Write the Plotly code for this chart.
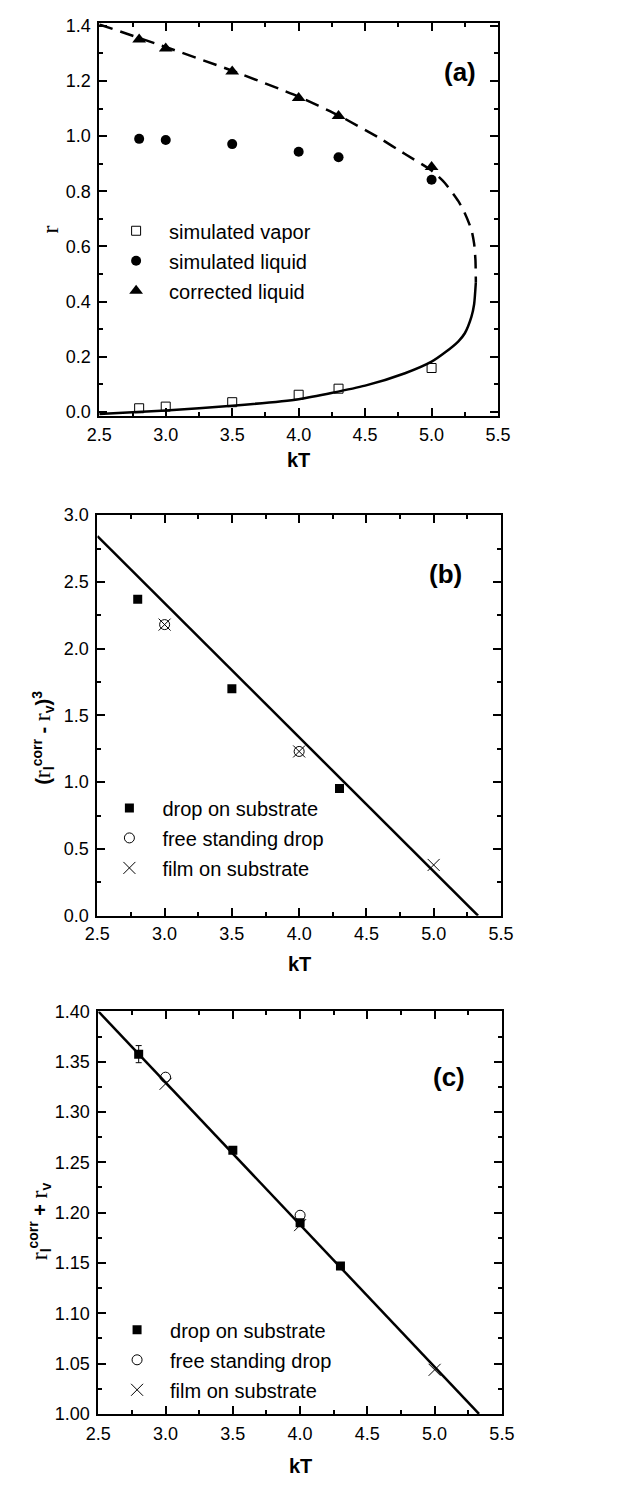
import plotly.graph_objects as go

# ---------------- data ----------------
kT_sim = [2.8, 3.0, 3.5, 4.0, 4.3, 5.0]
rho_vapor = [0.013, 0.019, 0.035, 0.062, 0.084, 0.159]
rho_liquid = [0.990, 0.986, 0.971, 0.943, 0.923, 0.842]
rho_corrected = [1.350, 1.318, 1.234, 1.138, 1.073, 0.888]

upper_kT = [2.5, 3.0, 3.5, 4.0, 4.3, 4.6, 4.8, 5.0, 5.1, 5.2, 5.25, 5.3, 5.32, 5.33, 5.333]
upper_rho = [1.405, 1.323, 1.237, 1.143, 1.075, 0.995, 0.935, 0.875, 0.830, 0.765, 0.720, 0.660, 0.610, 0.550, 0.470]
lower_kT = [2.5, 3.0, 3.5, 4.0, 4.5, 4.8, 5.0, 5.1, 5.2, 5.25, 5.3, 5.32, 5.333]
lower_rho = [-0.008, 0.005, 0.022, 0.046, 0.095, 0.140, 0.182, 0.215, 0.255, 0.285, 0.345, 0.390, 0.470]

# panel (b): (r_l^corr - r_v)^3
drop_kT_b = [2.8, 3.5, 4.3]
drop_b = [2.37, 1.70, 0.953]
free_kT_b = [3.0, 4.0]
free_b = [2.18, 1.23]
film_kT_b = [3.0, 4.0, 5.0]
film_b = [2.18, 1.23, 0.38]
fit_kT_b = [2.5, 5.33]
fit_b = [2.843, 0.0]

# panel (c): r_l^corr + r_v
drop_kT_c = [2.8, 3.5, 4.0, 4.3]
drop_c = [1.3575, 1.262, 1.190, 1.147]
drop_err_c = [0.0085, 0.0, 0.0, 0.0]
free_kT_c = [3.0, 4.0]
free_c = [1.3346, 1.1974]
film_kT_c = [3.0, 4.0, 5.0]
film_c = [1.328, 1.1876, 1.0438]
fit_kT_c = [2.5, 5.33]
fit_c = [1.400, 1.000]

x_ticks = [2.5, 3.0, 3.5, 4.0, 4.5, 5.0, 5.5]

# ---------------- layout helpers ----------------
W, H = 628, 1490
SANS = "Liberation Sans, Arial, sans-serif"
SERIF = "Liberation Serif, Times New Roman, serif"


def px(x):
    return x / W


def py(y):
    return 1 - y / H


def axis(domain, rng, tick0, dtick, fmt, anchor, minor_dtick, tickvals=None, standoff=3):
    d = dict(
        domain=domain, range=rng, tick0=tick0, dtick=dtick, tickformat=fmt,
        anchor=anchor, ticks="inside", ticklen=8, tickwidth=1.5,
        showline=True, linewidth=2, linecolor="black", mirror="allticks",
        showgrid=False, zeroline=False,
        tickfont=dict(family=SANS, size=18, color="black"),
        ticklabelstandoff=standoff,
        minor=dict(ticks="inside", ticklen=4, tickwidth=1.5, tick0=tick0,
                   dtick=minor_dtick, showgrid=False, tickcolor="black"),
        tickcolor="black",
    )
    if tickvals is not None:
        d["tickvals"] = tickvals
        d["tickmode"] = "array"
    return d


fig = go.Figure()

# ---------- panel (a) ----------
fig.add_trace(go.Scatter(x=upper_kT, y=upper_rho, mode="lines",
                         line=dict(color="black", width=2.5, dash="14px,8px", shape="spline", smoothing=0.6),
                         showlegend=False, xaxis="x", yaxis="y", hoverinfo="skip"))
fig.add_trace(go.Scatter(x=lower_kT, y=lower_rho, mode="lines",
                         line=dict(color="black", width=2.5, shape="spline", smoothing=0.6),
                         showlegend=False, xaxis="x", yaxis="y", hoverinfo="skip"))
fig.add_trace(go.Scatter(x=kT_sim, y=rho_vapor, mode="markers", name="simulated vapor",
                         marker=dict(symbol="square-open", size=9, color="black", line=dict(width=1)),
                         xaxis="x", yaxis="y", legend="legend", legendgroup="a1"))
fig.add_trace(go.Scatter(x=kT_sim, y=rho_liquid, mode="markers", name="simulated liquid",
                         marker=dict(symbol="circle", size=10, color="black"),
                         xaxis="x", yaxis="y", legend="legend", legendgroup="a2"))
fig.add_trace(go.Scatter(x=kT_sim, y=rho_corrected, mode="markers", name="corrected liquid",
                         marker=dict(symbol="triangle-up", size=12, color="black"),
                         xaxis="x", yaxis="y", legend="legend", legendgroup="a3"))

# ---------- panel (b) ----------
fig.add_trace(go.Scatter(x=fit_kT_b, y=fit_b, mode="lines",
                         line=dict(color="black", width=2.5),
                         showlegend=False, xaxis="x2", yaxis="y2", hoverinfo="skip"))
fig.add_trace(go.Scatter(x=drop_kT_b, y=drop_b, mode="markers", name="drop on substrate",
                         marker=dict(symbol="square", size=9, color="black"),
                         xaxis="x2", yaxis="y2", legend="legend2", legendgroup="b1"))
fig.add_trace(go.Scatter(x=free_kT_b, y=free_b, mode="markers", name="free standing drop",
                         marker=dict(symbol="circle-open", size=10, color="black", line=dict(width=1)),
                         xaxis="x2", yaxis="y2", legend="legend2", legendgroup="b2"))
fig.add_trace(go.Scatter(x=film_kT_b, y=film_b, mode="markers", name="film on substrate",
                         marker=dict(symbol="x-thin-open", size=12, color="black", line=dict(width=1)),
                         xaxis="x2", yaxis="y2", legend="legend2", legendgroup="b3"))

# ---------- panel (c) ----------
fig.add_trace(go.Scatter(x=fit_kT_c, y=fit_c, mode="lines",
                         line=dict(color="black", width=2.5),
                         showlegend=False, xaxis="x3", yaxis="y3", hoverinfo="skip"))
fig.add_trace(go.Scatter(x=drop_kT_c, y=drop_c, mode="markers", name="drop on substrate",
                         marker=dict(symbol="square", size=9, color="black"),
                         error_y=dict(type="data", array=drop_err_c, color="black", thickness=1, width=3),
                         xaxis="x3", yaxis="y3", legend="legend3", legendgroup="c1"))
fig.add_trace(go.Scatter(x=free_kT_c, y=free_c, mode="markers", name="free standing drop",
                         marker=dict(symbol="circle-open", size=10, color="black", line=dict(width=1)),
                         xaxis="x3", yaxis="y3", legend="legend3", legendgroup="c2"))
fig.add_trace(go.Scatter(x=film_kT_c, y=film_c, mode="markers", name="film on substrate",
                         marker=dict(symbol="x-thin-open", size=12, color="black", line=dict(width=1)),
                         xaxis="x3", yaxis="y3", legend="legend3", legendgroup="c3"))

# ---------- axes ----------
dom_ax = [px(90), px(506)]
dom_bx = [px(88), px(509)]
dom_cx = [px(89), px(510)]
dom_ay = [py(411.5), py(13.5)]
dom_by = [py(918), py(512)]
dom_cy = [py(1423), py(1015)]

legend_common = dict(bgcolor="rgba(0,0,0,0)", borderwidth=0,
                     font=dict(family=SANS, size=20, color="black"),
                     itemwidth=56, traceorder="grouped", tracegroupgap=1,
                     xanchor="left", yanchor="top", itemclick=False, itemdoubleclick=False)

bold_serif_r = '<span style="font-family:Liberation Serif;font-size:24px;font-weight:normal">r</span>'

annotations = [
    dict(text="<b>(a)</b>", x=px(466), y=py(63), font=dict(size=26)),
    dict(text="<b>(b)</b>", x=px(451), y=py(572), font=dict(size=26)),
    dict(text="<b>(c)</b>", x=px(455), y=py(1082), font=dict(size=26)),
    dict(text="<b>kT</b>", x=(dom_ax[0] + dom_ax[1]) / 2, y=py(456), font=dict(size=20)),
    dict(text="<b>kT</b>", x=(dom_bx[0] + dom_bx[1]) / 2, y=py(967), font=dict(size=20)),
    dict(text="<b>kT</b>", x=(dom_cx[0] + dom_cx[1]) / 2, y=py(1476), font=dict(size=20)),
    dict(text="r", x=px(39), y=py(222), textangle=-90, font=dict(size=24, family=SERIF)),
    dict(text="<b>(</b>" + bold_serif_r + "<sub><b>l</b></sub><sup><b>corr</b></sup><b> - </b>"
              + bold_serif_r + "<sub><b>v</b></sub><b>)</b><sup><b>3</b></sup>",
         x=px(31), y=py(738), textangle=-90, font=dict(size=20)),
    dict(text=bold_serif_r + "<sub><b>l</b></sub><sup><b>corr</b></sup><b> + </b>"
              + bold_serif_r + "<sub><b>v</b></sub>",
         x=px(28), y=py(1228), textangle=-90, font=dict(size=20)),
]
for a in annotations:
    a.update(xref="paper", yref="paper", showarrow=False, xanchor="center", yanchor="middle")
    a["font"].setdefault("family", SANS)
    a["font"]["color"] = "black"

fig.update_layout(
    width=W, height=H,
    margin=dict(l=0, r=0, t=0, b=0),
    paper_bgcolor="white", plot_bgcolor="white",
    font=dict(family=SANS, color="black"),
    xaxis=axis(dom_ax, [2.5, 5.5], 2.5, 0.5, ".1f", "y", 0.25, x_ticks, standoff=1),
    yaxis=axis(dom_ay, [-0.015, 1.409], 0, 0.2, ".1f", "x", 0.1),
    xaxis2=axis(dom_bx, [2.5, 5.5], 2.5, 0.5, ".1f", "y2", 0.25, x_ticks, standoff=1),
    yaxis2=axis(dom_by, [0, 3.0], 0, 0.5, ".1f", "x2", 0.25),
    xaxis3=axis(dom_cx, [2.5, 5.5], 2.5, 0.5, ".1f", "y3", 0.25, x_ticks, standoff=3),
    yaxis3=axis(dom_cy, [1.0, 1.4], 1.0, 0.05, ".2f", "x3", 0.025),
    legend=dict(legend_common, x=px(94), y=py(204)),
    legend2=dict(legend_common, x=px(87), y=py(789)),
    legend3=dict(legend_common, x=px(95), y=py(1318)),
    annotations=annotations,
)

fig.write_html("out.html")
